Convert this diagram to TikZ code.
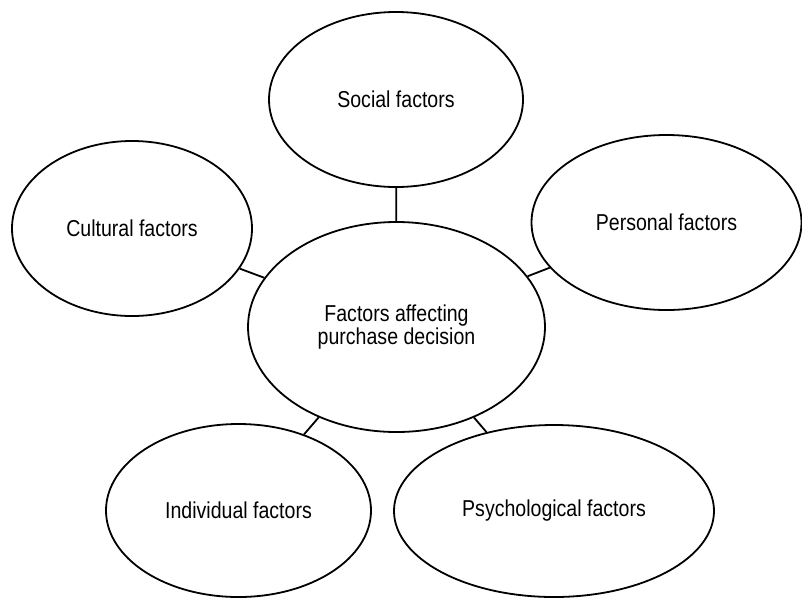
\documentclass[tikz,border=0pt]{standalone}
\usepackage{fontspec}
\setmainfont{Liberation Sans}[FakeStretch=0.85]
\usetikzlibrary{shapes.geometric}
\begin{document}
\begin{tikzpicture}[x=1pt,y=-1pt,
  factor/.style={draw=black, line width=1.8pt, ellipse, inner sep=0pt,
    align=center, font=\fontsize{23}{23}\selectfont},
  link/.style={draw=black, line width=1.8pt}]
\useasboundingbox (0,0) rectangle (802,598);

% central topic
\node[factor, minimum width=297pt, minimum height=210pt] (centre) at (396.5,327)
  {Factors affecting\\purchase decision};

% surrounding factors
\node[factor, minimum width=254pt, minimum height=175pt] (social) at (396,99.5) {Social factors};
\node[factor, minimum width=240pt, minimum height=175pt] (cultural) at (132,228.5) {Cultural factors};
\node[factor, minimum width=270pt, minimum height=175pt] (personal) at (666.5,222.5) {Personal factors};
\node[factor, minimum width=265pt, minimum height=173pt] (individual) at (238.5,510.5) {Individual factors};
\node[factor, minimum width=320pt, minimum height=172pt] (psych) at (554,511) {Psychological factors};

% connectors
\draw[link] (centre) -- (social);
\draw[link] (centre) -- (cultural);
\draw[link] (centre) -- (personal);
\draw[link] (centre) -- (individual);
\draw[link] (centre) -- (psych);
\end{tikzpicture}
\end{document}
